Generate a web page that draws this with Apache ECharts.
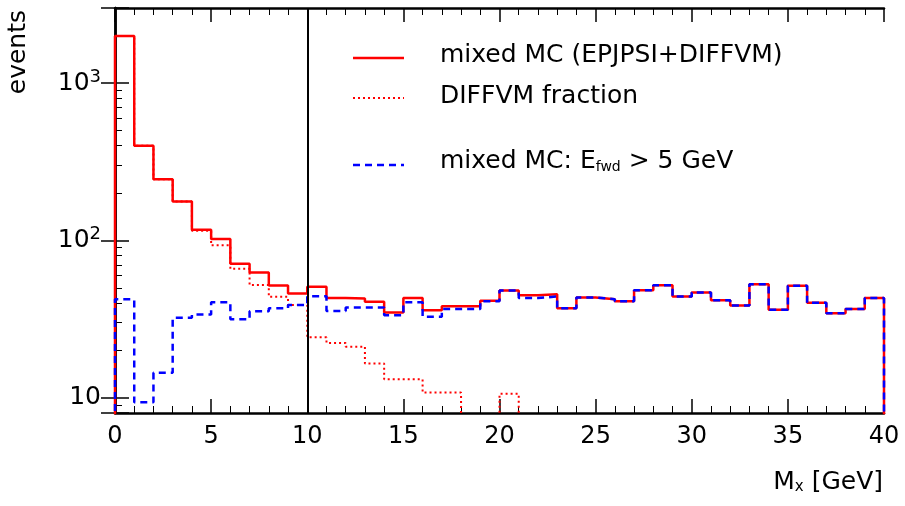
<!DOCTYPE html>
<html>
<head>
<meta charset="utf-8">
<script src="https://cdn.jsdelivr.net/npm/echarts@6/dist/echarts.min.js"></script>
<style>html,body{margin:0;padding:0;background:#fff}#main{width:905px;height:506px}</style>
</head>
<body>
<div id="main"></div>
<script>
// bin contents, 1 GeV bins from 0 to 40
const mixedMC = [1990, 400, 245, 177, 117, 102, 71, 62.6, 51.7, 46,
  50.7, 43, 42.8, 40.7, 34.8, 43, 36, 38.2, 38.2, 41.4,
  48, 44.9, 45.5, 37, 43.4, 42.3, 41, 48.3, 51.9, 44,
  46.6, 41.7, 38.6, 52.6, 36.2, 51.5, 40.1, 34.4, 36.6, 43];
const diffvm = [1990, 400, 245, 177, 115, 93, 66, 52, 43.8, 38.8,
  24.2, 22.3, 21.1, 16.5, 13.1, 13.1, 10.8, 10.8, 1, 1,
  10.6, 1, 1, 1, 1, 1, 1, 1, 1, 1,
  1, 1, 1, 1, 1, 1, 1, 1, 1, 1];
const fwdMC = [42.2, 9.35, 14.4, 32.2, 33.8, 40.4, 31.5, 35.5, 37, 38.8,
  44.2, 35.6, 37.5, 37.5, 33.5, 40.4, 32.7, 36.6, 36.6, 41,
  48, 43, 44, 37, 43.4, 42.3, 41, 48.3, 51.9, 44,
  46.6, 41.7, 38.6, 52.6, 36.2, 51.5, 40.1, 34.4, 36.6, 43];

function steps(vals) {
  const pts = [[0, 1]];
  vals.forEach((v, i) => pts.push([i, v]));
  pts.push([vals.length, vals[vals.length - 1]]);
  pts.push([vals.length, 1]);
  return pts;
}

const font = 'DejaVu Sans';
const chart = echarts.init(document.getElementById('main'));
const lg = (y, type, color, width) => ({
  type: 'line', shape: {x1: 353, y1: y, x2: 404, y2: y},
  style: {stroke: color, lineWidth: width, lineDash: type}
});
const axLine = {lineStyle: {color: '#000', width: 2.5}};
chart.setOption({
  animation: false,
  grid: {left: 115, right: 21, top: 8, bottom: 93},
  xAxis: [{
    type: 'value', min: 0, max: 40, interval: 5,
    axisLine: axLine,
    axisTick: {inside: true, length: 14, lineStyle: {color: '#000', width: 1.5}},
    minorTick: {show: true, splitNumber: 5, length: 7, lineStyle: {color: '#000'}},
    axisLabel: {color: '#000', fontSize: 24, fontFamily: font, margin: 12},
    splitLine: {show: false}
  }, {
    type: 'value', min: 0, max: 40, interval: 5, position: 'top',
    axisLine: axLine,
    axisTick: {inside: true, length: 14, lineStyle: {color: '#000', width: 1.5}},
    minorTick: {show: true, splitNumber: 5, length: 7, lineStyle: {color: '#000'}},
    axisLabel: {show: false}, splitLine: {show: false}
  }],
  yAxis: [{
    type: 'log', min: 8, max: 3000, logBase: 10,
    axisLine: axLine,
    axisTick: {inside: true, length: 14, lineStyle: {color: '#000', width: 1.5}},
    minorTick: {show: true, splitNumber: 9, length: 7, lineStyle: {color: '#000'}},
    axisLabel: {
      color: '#000', fontSize: 25, fontFamily: font, margin: 14,
      formatter: v => {
        const e = Math.round(Math.log10(v));
        if (Math.abs(Math.log10(v) - e) > 1e-6) return '';
        return e === 1 ? '10' : '10{s|' + e + '}';
      },
      rich: {s: {fontSize: 18, verticalAlign: 'top', padding: [0, 0, 12, 0], fontFamily: font}}
    },
    splitLine: {show: false}
  }, {
    type: 'log', min: 8, max: 3000, position: 'right',
    axisLine: axLine,
    axisTick: {inside: true, length: 14, lineStyle: {color: '#000', width: 1.5}},
    axisLabel: {show: false}, splitLine: {show: false}
  }],
  series: [{
    type: 'line', step: 'end', symbol: 'none', data: steps(diffvm),
    lineStyle: {color: '#ff0000', width: 2, type: [2, 3]}
  }, {
    type: 'line', step: 'end', symbol: 'none', data: steps(mixedMC),
    lineStyle: {color: '#ff0000', width: 2.5},
    markLine: {
      silent: true, symbol: 'none', label: {show: false},
      lineStyle: {color: '#000', width: 2, type: 'solid'},
      data: [{xAxis: 10}]
    }
  }, {
    type: 'line', step: 'end', symbol: 'none', data: steps(fwdMC),
    lineStyle: {color: '#0000ff', width: 2.5, type: [7, 5]}
  }],
  graphic: [
    lg(58, null, '#ff0000', 2.5),
    lg(98, [2, 3], '#ff0000', 2),
    lg(165, [7, 5], '#0000ff', 2.5),
    {type: 'text', left: 440, top: 43, style: {text: 'mixed MC (EPJPSI+DIFFVM)', fontSize: 25, fontFamily: font, fill: '#000'}},
    {type: 'text', left: 440, top: 84, style: {text: 'DIFFVM fraction', fontSize: 25, fontFamily: font, fill: '#000'}},
    {type: 'text', left: 440, top: 149, style: {
      text: 'mixed MC: E{s|fwd} > 5 GeV', fontSize: 25, fontFamily: font, fill: '#000',
      rich: {s: {fontSize: 14, verticalAlign: 'bottom', padding: [12, 0, 0, 0], fontFamily: font}}
    }},
    {type: 'text', left: 6, top: 10, rotation: Math.PI / 2, style: {text: 'events', fontSize: 25, fontFamily: font, fill: '#000'}},
    {type: 'text', right: 22, top: 470, style: {
      text: 'M{s|x} [GeV]', fontSize: 25, fontFamily: font, fill: '#000',
      rich: {s: {fontSize: 15, verticalAlign: 'bottom', padding: [10, 0, 0, 0], fontFamily: font}}
    }}
  ]
});
</script>
</body>
</html>
